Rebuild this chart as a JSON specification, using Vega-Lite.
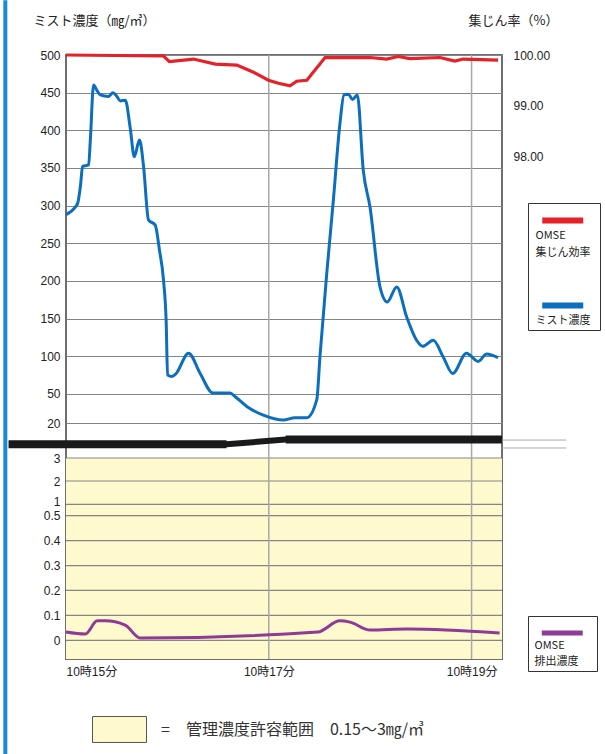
{
  "$schema": "https://vega.github.io/schema/vega-lite/v6.json",
  "width": 436,
  "height": 604,
  "autosize": {"type": "none"},
  "padding": {"left": 66, "top": 55, "right": 103, "bottom": 95},
  "background": "white",
  "config": {
    "view": {"stroke": "#6e6e6e", "strokeWidth": 2},
    "axis": {
      "labelFont": "'Liberation Sans', 'Noto Sans CJK JP', sans-serif",
      "labelFontSize": 12,
      "labelColor": "#222222",
      "ticks": false,
      "domain": false,
      "labelOverlap": false,
      "titleFont": "'Noto Sans CJK JP', sans-serif",
      "titleFontWeight": "normal",
      "titleFontSize": 13,
      "titleColor": "#222222"
    },
    "legend": {
      "labelFont": "'Noto Sans CJK JP', sans-serif",
      "labelColor": "#222222"
    }
  },
  "resolve": {"scale": {"y": "independent"}, "axis": {"y": "independent"}},
  "layer": [
    {
      "data": {"values": [{"範囲": "管理濃度許容範囲　0.15〜3㎎/㎥"}]},
      "mark": {"type": "rect"},
      "encoding": {
        "x": {"datum": 0, "type": "quantitative"},
        "x2": {"datum": 258},
        "y": {
          "datum": 3,
          "type": "quantitative",
          "scale": {"domain": [-0.075, 0, 0.5, 1, 2, 3], "range": [604, 585.3, 460.7, 449.3, 426, 403], "nice": false, "zero": false},
          "axis": null
        },
        "y2": {"datum": -0.075},
        "fill": {
          "field": "範囲",
          "type": "nominal",
          "scale": {"range": ["#fffacd"]},
          "legend": {
            "orient": "none",
            "legendX": 26,
            "legendY": 647,
            "title": null,
            "symbolType": "M-1,-0.48L1,-0.48L1,0.48L-1,0.48Z",
            "symbolSize": 2916,
            "symbolStrokeColor": "#555555",
            "symbolStrokeWidth": 1,
            "symbolOpacity": 1,
            "labelFontSize": 16,
            "labelOffset": 14,
            "labelLimit": 0,
            "labelColor": "#333333",
            "padding": 0,
            "labelExpr": "'=　' + datum.label"
          }
        }
      }
    },
    {
      "data": {"values": [{"v": 3}, {"v": 2}, {"v": 1}, {"v": 0.5}, {"v": 0.4}, {"v": 0.3}, {"v": 0.2}, {"v": 0.1}, {"v": 0}]},
      "mark": {"type": "rule", "color": "#858585", "strokeWidth": 1.2},
      "encoding": {
        "y": {
          "field": "v",
          "type": "quantitative",
          "scale": {"domain": [-0.075, 0, 0.5, 1, 2, 3], "range": [604, 585.3, 460.7, 449.3, 426, 403], "nice": false, "zero": false},
          "axis": null
        }
      }
    },
    {
      "data": {"values": [{"s": 120}, {"s": 240}]},
      "mark": {"type": "rule", "color": "#a8a8a8", "strokeWidth": 1.5},
      "encoding": {
        "x": {
          "field": "s",
          "type": "quantitative",
          "scale": {"domain": [0, 258], "nice": false, "zero": false},
          "axis": {
            "values": [0, 120, 240],
            "labelExpr": "'10時' + (15 + datum.value / 60) + '分'",
            "grid": false,
            "labelPadding": 7,
            "labelBaseline": "top",
            "title": null
          }
        }
      }
    },
    {
      "data": {
        "values": [
          {"s": 0, "mist": 288}, {"s": 5.5, "mist": 298}, {"s": 6.9, "mist": 303},
          {"s": 8.5, "mist": 325}, {"s": 9.8, "mist": 352}, {"s": 13.4, "mist": 354},
          {"s": 14.4, "mist": 387}, {"s": 16.3, "mist": 460}, {"s": 18.3, "mist": 453},
          {"s": 20.3, "mist": 447}, {"s": 25.2, "mist": 445}, {"s": 27.8, "mist": 450},
          {"s": 30.1, "mist": 445}, {"s": 32.1, "mist": 439}, {"s": 35.1, "mist": 440},
          {"s": 38.0, "mist": 403}, {"s": 40.4, "mist": 365}, {"s": 43.5, "mist": 387},
          {"s": 45.9, "mist": 352}, {"s": 48.8, "mist": 281}, {"s": 52.8, "mist": 274},
          {"s": 55.3, "mist": 241}, {"s": 57.7, "mist": 201}, {"s": 59.3, "mist": 144},
          {"s": 60.1, "mist": 75}, {"s": 62.7, "mist": 73}, {"s": 65.2, "mist": 77},
          {"s": 72.5, "mist": 104}, {"s": 79.4, "mist": 77}, {"s": 86.9, "mist": 51},
          {"s": 97.1, "mist": 51}, {"s": 100.1, "mist": 47}, {"s": 107.0, "mist": 37},
          {"s": 116.8, "mist": 28}, {"s": 128.6, "mist": 23}, {"s": 135.5, "mist": 25.5},
          {"s": 142.5, "mist": 25.5}, {"s": 148.4, "mist": 44}, {"s": 150.3, "mist": 100},
          {"s": 154.3, "mist": 210}, {"s": 158.2, "mist": 307}, {"s": 162.1, "mist": 409},
          {"s": 164.5, "mist": 447}, {"s": 167.0, "mist": 448}, {"s": 169.6, "mist": 441},
          {"s": 172.4, "mist": 447}, {"s": 175.9, "mist": 347}, {"s": 179.9, "mist": 298},
          {"s": 185.8, "mist": 192}, {"s": 190.1, "mist": 172}, {"s": 195.7, "mist": 192},
          {"s": 201.6, "mist": 152}, {"s": 207.5, "mist": 121}, {"s": 211.0, "mist": 113},
          {"s": 217.3, "mist": 121}, {"s": 223.2, "mist": 99}, {"s": 228.8, "mist": 77},
          {"s": 237.0, "mist": 104}, {"s": 243.9, "mist": 93}, {"s": 248.9, "mist": 103},
          {"s": 255.7, "mist": 98}
        ]
      },
      "mark": {"type": "line", "interpolate": "monotone", "strokeWidth": 3},
      "encoding": {
        "x": {"field": "s", "type": "quantitative"},
        "y": {
          "field": "mist",
          "type": "quantitative",
          "scale": {"domain": [20, 50, 500], "range": [368, 338.8, 0], "nice": false, "zero": false},
          "axis": {
            "orient": "left",
            "values": [500, 450, 400, 350, 300, 250, 200, 150, 100, 50, 20],
            "grid": true,
            "gridColor": "#858585",
            "gridWidth": 1.2,
            "labelPadding": 6,
            "title": "ミスト濃度（㎎/㎥）",
            "titleAngle": 0,
            "titleX": -33,
            "titleY": -35,
            "titleAlign": "left",
            "titleBaseline": "middle"
          }
        },
        "color": {
          "datum": "ミスト濃度",
          "scale": {"domain": ["OMSE集じん効率", "ミスト濃度"], "range": ["#e62129", "#0b6fbd"]},
          "legend": {
            "orient": "none",
            "legendX": 462,
            "legendY": 148,
            "title": null,
            "symbolType": "M-2,0L2,0",
            "symbolSize": 420,
            "symbolStrokeWidth": 6,
            "labelExpr": "datum.label == 'OMSE集じん効率' ? ['OMSE', '集じん効率'] : datum.label",
            "labelBaseline": "top",
            "labelOffset": -40.75,
            "symbolOffset": 17.25,
            "rowPadding": 34,
            "padding": 4,
            "strokeColor": "#333333",
            "fillColor": "white",
            "labelFontSize": 11,
            "encode": {"labels": {"update": {"lineHeight": {"value": 17}, "dy": {"value": 9}}}}
          }
        }
      }
    },
    {
      "data": {
        "values": [
          {"s": 0, "eff": 100.0}, {"s": 57.7, "eff": 99.98}, {"s": 61.2, "eff": 99.87},
          {"s": 75.4, "eff": 99.92}, {"s": 88.3, "eff": 99.82}, {"s": 101.1, "eff": 99.8},
          {"s": 110.9, "eff": 99.66}, {"s": 119.8, "eff": 99.5}, {"s": 125.7, "eff": 99.44},
          {"s": 132.6, "eff": 99.39}, {"s": 136.5, "eff": 99.48}, {"s": 142.5, "eff": 99.5},
          {"s": 153.3, "eff": 99.95}, {"s": 179.9, "eff": 99.95}, {"s": 189.7, "eff": 99.92},
          {"s": 196.6, "eff": 99.97}, {"s": 203.5, "eff": 99.93}, {"s": 221.3, "eff": 99.95},
          {"s": 230.1, "eff": 99.88}, {"s": 235.0, "eff": 99.92}, {"s": 255.7, "eff": 99.9}
        ]
      },
      "mark": {"type": "line", "strokeWidth": 3.2},
      "encoding": {
        "x": {"field": "s", "type": "quantitative"},
        "y": {
          "field": "eff",
          "type": "quantitative",
          "scale": {"domain": [98, 100], "range": [101, 0], "nice": false, "zero": false},
          "axis": {
            "orient": "right",
            "values": [98, 99, 100],
            "format": ".2f",
            "grid": false,
            "labelPadding": 11,
            "title": "集じん率（%）",
            "titleAngle": 0,
            "titleX": -34,
            "titleY": -35,
            "titleAlign": "left",
            "titleBaseline": "middle"
          }
        },
        "color": {"datum": "OMSE集じん効率"}
      }
    },
    {
      "data": {
        "values": [
          {"s": 0, "emis": 0.033}, {"s": 11.4, "emis": 0.025}, {"s": 18.5, "emis": 0.078},
          {"s": 23.2, "emis": 0.078}, {"s": 35, "emis": 0.061}, {"s": 43.9, "emis": 0.009},
          {"s": 149, "emis": 0.033}, {"s": 162, "emis": 0.078}, {"s": 168, "emis": 0.073},
          {"s": 180, "emis": 0.041}, {"s": 202, "emis": 0.045}, {"s": 256.6, "emis": 0.029}
        ]
      },
      "mark": {"type": "line", "strokeWidth": 3, "interpolate": "monotone"},
      "encoding": {
        "x": {"field": "s", "type": "quantitative"},
        "y": {
          "field": "emis",
          "type": "quantitative",
          "scale": {"domain": [-0.075, 0, 0.5, 1, 2, 3], "range": [604, 585.3, 460.7, 449.3, 426, 403], "nice": false, "zero": false},
          "axis": {
            "orient": "left",
            "values": [3, 2, 1, 0.5, 0.4, 0.3, 0.2, 0.1, 0],
            "format": "~g",
            "grid": false,
            "labelPadding": 6,
            "labelOffset": {"condition": {"test": "datum.value == 1", "value": -3}, "value": 0},
            "title": null,
            "zindex": 1
          }
        },
        "stroke": {
          "datum": "OMSE排出濃度",
          "scale": {"range": ["#8e3a97"]},
          "legend": {
            "orient": "none",
            "legendX": 462,
            "legendY": 561,
            "title": null,
            "symbolType": "M-2,0L2,0",
            "symbolSize": 420,
            "symbolStrokeWidth": 5,
            "labelExpr": "['OMSE', '排出濃度']",
            "labelBaseline": "top",
            "labelOffset": -40.75,
            "symbolOffset": 17.25,
            "padding": 4,
            "strokeColor": "#333333",
            "fillColor": "white",
            "labelFontSize": 11,
            "encode": {"labels": {"update": {"lineHeight": {"value": 16}, "dy": {"value": 7}}}}
          }
        }
      }
    },
    {
      "data": {"values": [{}]},
      "mark": {"type": "rule", "color": "#1a1a1a", "strokeWidth": 8},
      "encoding": {
        "x": {"datum": -34}, "x2": {"datum": 95},
        "y": {"datum": 3.6, "type": "quantitative", "axis": null,
              "scale": {"domain": [-0.075, 0, 0.5, 1, 2, 3], "range": [604, 585.3, 460.7, 449.3, 426, 403], "nice": false, "zero": false}},
        "y2": {"datum": 3.6}
      }
    },
    {
      "data": {"values": [{}]},
      "mark": {"type": "rule", "color": "#1a1a1a", "strokeWidth": 6, "strokeCap": "round"},
      "encoding": {
        "x": {"datum": 95}, "x2": {"datum": 130},
        "y": {"datum": 3.6, "type": "quantitative", "axis": null,
              "scale": {"domain": [-0.075, 0, 0.5, 1, 2, 3], "range": [604, 585.3, 460.7, 449.3, 426, 403], "nice": false, "zero": false}},
        "y2": {"datum": 3.8}
      }
    },
    {
      "data": {"values": [{}]},
      "mark": {"type": "rule", "color": "#1a1a1a", "strokeWidth": 8},
      "encoding": {
        "x": {"datum": 130}, "x2": {"datum": 258},
        "y": {"datum": 3.8, "type": "quantitative", "axis": null,
              "scale": {"domain": [-0.075, 0, 0.5, 1, 2, 3], "range": [604, 585.3, 460.7, 449.3, 426, 403], "nice": false, "zero": false}},
        "y2": {"datum": 3.8}
      }
    },
    {
      "data": {"values": [{}]},
      "mark": {"type": "rule", "color": "#aaaaaa", "strokeWidth": 1},
      "encoding": {
        "x": {"datum": 258}, "x2": {"datum": 296},
        "y": {"datum": 3.78, "type": "quantitative", "axis": null,
              "scale": {"domain": [-0.075, 0, 0.5, 1, 2, 3], "range": [604, 585.3, 460.7, 449.3, 426, 403], "nice": false, "zero": false}},
        "y2": {"datum": 3.78}
      }
    },
    {
      "data": {"values": [{}]},
      "mark": {"type": "rule", "color": "#aaaaaa", "strokeWidth": 1},
      "encoding": {
        "x": {"datum": 258}, "x2": {"datum": 296},
        "y": {"datum": 3.435, "type": "quantitative", "axis": null,
              "scale": {"domain": [-0.075, 0, 0.5, 1, 2, 3], "range": [604, 585.3, 460.7, 449.3, 426, 403], "nice": false, "zero": false}},
        "y2": {"datum": 3.435}
      }
    },
    {
      "data": {"values": [{}]},
      "mark": {"type": "rule", "color": "#1a8ad4", "strokeWidth": 4},
      "encoding": {
        "x": {"datum": -35.9},
        "y": {"datum": 22.9, "type": "quantitative", "axis": null,
              "scale": {"domain": [-0.075, 0, 0.5, 1, 2, 3], "range": [604, 585.3, 460.7, 449.3, 426, 403], "nice": false, "zero": false}},
        "y2": {"datum": -0.457}
      }
    }
  ]
}
